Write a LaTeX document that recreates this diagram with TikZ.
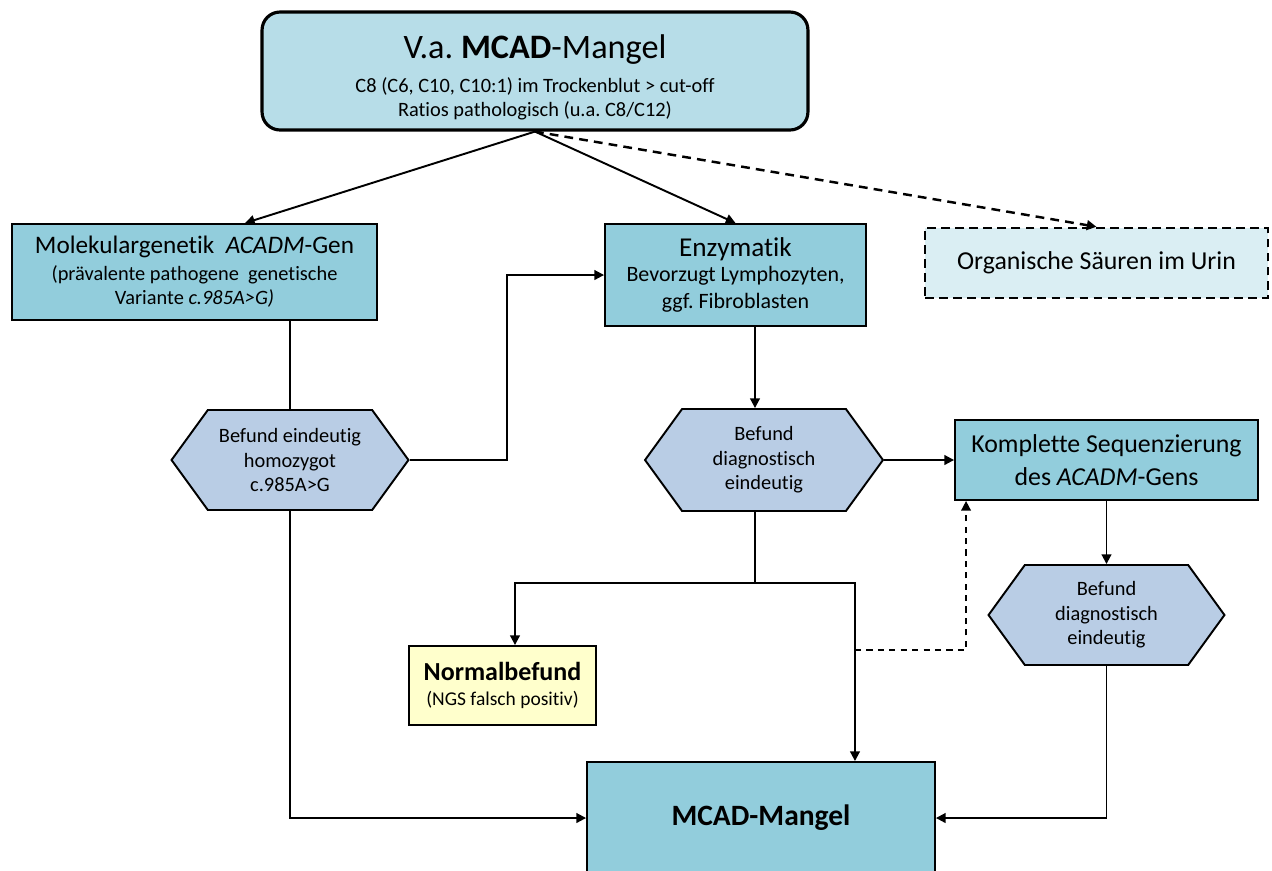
\documentclass[tikz,border=0pt]{standalone}
\usepackage{fontspec}
\setmainfont{Carlito}[Ligatures=NoCommon]
\usetikzlibrary{arrows.meta,shapes.symbols,calc}
\newcommand\fbig{\fontsize{14.7}{18}\selectfont}
\newcommand\fsmall{\fontsize{11.6}{14}\selectfont}
\frenchspacing
\begin{document}
\begin{tikzpicture}[x=0.02cm, y=-0.02cm, >={Triangle[length=5.5pt,width=5.5pt]}]
    % --- FARBEN ---
    \definecolor{topBlue}{RGB}{183,221,232}
    \definecolor{boxBlue}{RGB}{146,205,220}
    \definecolor{paleBlue}{RGB}{218,238,243}
    \definecolor{hexBlue}{RGB}{185,205,229}
    \definecolor{paleYellow}{RGB}{255,255,204}

    \tikzset{
        conn/.style={line width=1.1pt},
        box/.style={draw, line width=1.1pt, fill=boxBlue, align=center, inner sep=2pt},
        befund/.style={signal, signal to=east and west, signal pointer angle=108,
            draw, line width=1.1pt, fill=hexBlue, align=center, font=\fsmall, inner sep=1pt},
    }

    \useasboundingbox (0,0) rectangle (1272,870);

    % Verdacht
    \node[draw, line width=1.8pt, rounded corners=0.36cm, fill=topBlue, align=center,
          minimum width=10.92cm, minimum height=2.36cm, font=\fsmall] (verdacht) at (535,71)
        {\rule{0pt}{21pt}{\fontsize{19.5}{22}\selectfont V.a. \textbf{MCAD}-Mangel}\\[5pt]
         C8 (C6, C10, C10:1) im Trockenblut > cut-off\\
         Ratios pathologisch (u.a. C8/C12)};

    % Untersuchungen
    \node[box, minimum width=7.3cm, minimum height=1.92cm, font=\fsmall] (molgen) at (194.5,272)
        {{\fontsize{14.35}{17}\selectfont Molekulargenetik\ \ \textit{ACADM}-Gen}\\[1pt]
         (prävalente pathogene\ \ genetische\\
         Variante \textit{c.985A>G)}};
    \node[box, minimum width=5.22cm, minimum height=2.04cm, font=\fontsize{12.5}{15.5}\selectfont] (enzym) at (735.5,275)
        {{\fontsize{15.5}{18}\selectfont Enzymatik}\\[-1pt]
         Bevorzugt Lymphozyten,\\
         ggf. Fibroblasten};
    \node[draw, line width=1.4pt, dash pattern=on 5pt off 3pt, fill=paleBlue,
          minimum width=6.86cm, minimum height=1.4cm, font=\fbig] (urin) at (1096.5,263)
        {Organische Säuren im Urin};

    % Befunde
    \node[befund, minimum width=4.74cm, minimum height=2cm] (befundA) at (290,460)
        {Befund eindeutig\\ homozygot\\ c.985A>G};
    \node[befund, minimum width=4.76cm, minimum height=2.04cm] (befundB) at (764,460)
        {Befund\\ diagnostisch\\ eindeutig};
    \node[box, minimum width=6.06cm, minimum height=1.6cm, font=\fontsize{14.7}{19}\selectfont] (sequenz) at (1106.5,460)
        {Komplette Sequenzierung\\ des \textit{ACADM}-Gens};
    \node[befund, minimum width=4.72cm, minimum height=2cm] (befundC) at (1106.5,615)
        {Befund\\ diagnostisch\\ eindeutig};

    % Ergebnisse
    \node[draw, line width=1.1pt, fill=paleYellow, align=center, minimum width=3.74cm,
          minimum height=1.58cm, font=\fontsize{11.1}{14}\selectfont] (normal) at (502.5,685.5)
        {{\fontsize{14.8}{17}\selectfont\bfseries Normalbefund}\\ (NGS falsch positiv)};
    \node[box, minimum width=6.96cm, minimum height=2.24cm, font=\fontsize{16.8}{20}\selectfont\bfseries] (mangel) at (761,818)
        {MCAD-Mangel};

    % Verbindungen
    \coordinate (split) at (755,583);
    \coordinate (rueck) at (855,650);
    \draw[conn, ->] (verdacht.south) -- ([xshift=1.01cm]molgen.north);
    \draw[conn, ->] (verdacht.south) -- (enzym.north);
    \draw[line width=1.4pt, dash pattern=on 5pt off 3.5pt, ->] (verdacht.south) -- (urin.north);
    \draw[conn] ([xshift=1.91cm]molgen.south) -- (befundA.north);
    \draw[conn, ->] (befundA.east) -| ([xshift=-1.94cm]enzym.west) -- (enzym.west);
    \draw[conn, ->] ([xshift=0.39cm]enzym.south) -- ([xshift=0.39cm]enzym.south |- befundB.north);
    \draw[conn, ->] (befundB.east) -- (sequenz.west);
    \draw[conn, ->] (sequenz.south) -- (befundC.north);
    \draw[conn] ([xshift=-0.18cm]befundB.south) -- (split);
    \draw[conn, ->] (split) -| ([xshift=0.25cm]normal.north);
    \draw[conn, ->] (split) -| ([xshift=1.88cm]mangel.north);
    \draw[line width=0.9pt, dash pattern=on 3.5pt off 3pt, ->] (rueck) -| ([xshift=0.24cm]sequenz.south west);
    \draw[conn, ->] (befundA.south) |- (mangel.west);
    \draw[conn, ->] (befundC.south) |- (mangel.east);
\end{tikzpicture}
\end{document}
